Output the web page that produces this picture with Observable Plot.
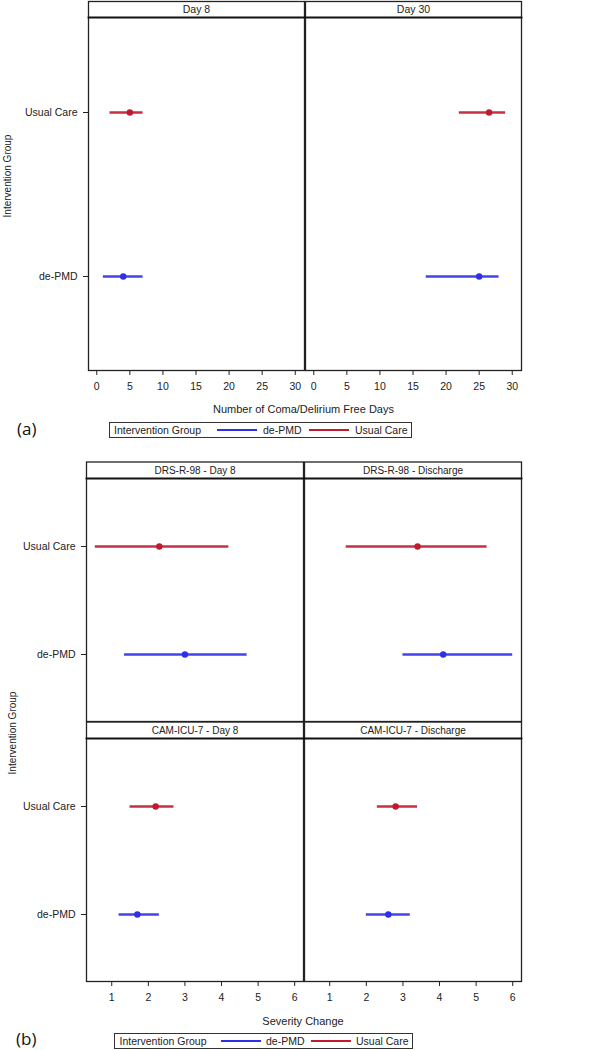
<!DOCTYPE html>
<html>
<head>
<meta charset="utf-8">
<script src="https://cdn.jsdelivr.net/npm/d3@7"></script>
<script src="https://cdn.jsdelivr.net/npm/@observablehq/plot@0.6"></script>
<style>
html,body{margin:0;padding:0;background:#fff;}
#wrap{position:relative;width:589px;height:1050px;overflow:hidden;font-family:"Liberation Sans",Arial,sans-serif;color:#222;}
.chart{position:absolute;left:0;}
.ylab{position:absolute;white-space:nowrap;font-size:10px;line-height:1;transform:translate(-50%,-50%) rotate(-90deg);}
.xlab{position:absolute;white-space:nowrap;font-size:11px;line-height:1;transform:translate(-50%,-50%);}
.tag{position:absolute;font-family:"Open Sans",sans-serif;font-size:17px;line-height:1;transform:translateY(-50%);color:#111;}
.legend{position:absolute;border:1px solid #333;box-sizing:border-box;height:16px;font-size:10.5px;}
.legend span{position:absolute;top:50%;transform:translateY(-50%);white-space:nowrap;line-height:1;}
.legend i{position:absolute;top:50%;height:2px;margin-top:-1px;}
</style>
</head>
<body>
<div id="wrap">
  <div id="chartA" class="chart" style="top:0px"></div>
  <div id="chartB" class="chart" style="top:445px"></div>
</div>
<script>
// ---------- data ----------
const groups = ["Usual Care", "de-PMD"];          // y order, top to bottom
const legendGroups = ["de-PMD", "Usual Care"];    // legend order
const groupColors = ["#2f2fe8", "#c01a30"];

// (a) coma/delirium free days
const panelsA = ["Day 8", "Day 30"];
const aPanel = ["Day 8", "Day 8", "Day 30", "Day 30"];
const aGroup = ["Usual Care", "de-PMD", "Usual Care", "de-PMD"];
const aMean  = [5, 4, 26.5, 25];
const aLow   = [2, 1, 22, 17];
const aHigh  = [7, 7, 29, 28];
const ticksA = [0, 5, 10, 15, 20, 25, 30];

// (b) severity change
const colsB = ["Day 8", "Discharge"];
const rowsB = ["DRS-R-98", "CAM-ICU-7"];
const bRow   = ["DRS-R-98", "DRS-R-98", "DRS-R-98", "DRS-R-98", "CAM-ICU-7", "CAM-ICU-7", "CAM-ICU-7", "CAM-ICU-7"];
const bCol   = ["Day 8", "Day 8", "Discharge", "Discharge", "Day 8", "Day 8", "Discharge", "Discharge"];
const bGroup = ["Usual Care", "de-PMD", "Usual Care", "de-PMD", "Usual Care", "de-PMD", "Usual Care", "de-PMD"];
const bMean  = [2.3, 3.0, 3.4, 4.1, 2.2, 1.7, 2.8, 2.6];
const bLow   = [0.55, 1.35, 1.45, 3.0, 1.5, 1.2, 2.3, 2.0];
const bHigh  = [4.2, 4.7, 5.3, 6.0, 2.7, 2.3, 3.4, 3.2];
const ticksB = [1, 2, 3, 4, 5, 6];

const titleA = "Number of Coma/Delirium Free Days";
const titleB = "Severity Change";
const yTitle = "Intervention Group";

// ---------- tables ----------
const dataA = aPanel.map((p, i) => ({panel: p, group: aGroup[i], mean: aMean[i], lo: aLow[i], hi: aHigh[i]}));
const dataB = bRow.map((r, i) => ({row: r, col: bCol[i], group: bGroup[i], mean: bMean[i], lo: bLow[i], hi: bHigh[i]}));
const headersB = [];
for (const r of rowsB) for (const c of colsB) headersB.push({row: r, col: c, label: r + " - " + c});

const style = {fontFamily: '"Liberation Sans", Arial, sans-serif', fontSize: "10.5px", color: "#222", background: "transparent", overflow: "visible"};

// ---------- chart (a) ----------
const plotA = Plot.plot({
  width: 589, height: 395,
  marginTop: 17, marginBottom: 25, marginLeft: 87, marginRight: 68,
  style,
  fx: {domain: panelsA, axis: null, paddingInner: 0.006, paddingOuter: 0},
  x: {domain: [-1.25, 31.4], ticks: ticksA, tickFormat: "d", tickSize: 5, tickPadding: 7, label: null},
  y: {type: "point", domain: groups, padding: 0.576, tickSize: 5, tickPadding: 6, label: null},
  color: {domain: legendGroups, range: groupColors},
  marks: [
    Plot.frame({insetTop: -16, stroke: "#222", strokeWidth: 1.3}),
    Plot.frame({anchor: "top", stroke: "#111", strokeWidth: 1.8}),
    Plot.text(panelsA, {fx: d => d, text: d => d, frameAnchor: "top", lineAnchor: "middle", dy: -8, fontSize: 10.5, fill: "#222"}),
    Plot.ruleY(dataA, {fx: "panel", y: "group", x1: "lo", x2: "hi", stroke: "group", strokeWidth: 2.6, strokeOpacity: 0.9}),
    Plot.dot(dataA, {fx: "panel", x: "mean", y: "group", fill: "group", r: 3.2})
  ]
});
document.getElementById("chartA").appendChild(plotA);

// ---------- chart (b) ----------
const plotB = Plot.plot({
  width: 589, height: 565,
  marginTop: 33, marginBottom: 28, marginLeft: 85, marginRight: 67.5,
  style,
  fx: {domain: colsB, axis: null, paddingInner: 0.006, paddingOuter: 0},
  fy: {domain: rowsB, axis: null, paddingInner: 0.0653, paddingOuter: 0},
  x: {domain: [0.31, 6.24], ticks: ticksB, tickFormat: "d", tickSize: 5, tickPadding: 7, label: null},
  y: {type: "point", domain: groups, padding: 0.623, tickSize: 5, tickPadding: 6, label: null},
  color: {domain: legendGroups, range: groupColors},
  marks: [
    Plot.frame({insetTop: -16.5, stroke: "#222", strokeWidth: 1.3}),
    Plot.frame({anchor: "top", stroke: "#111", strokeWidth: 1.8}),
    Plot.text(headersB, {fx: "col", fy: "row", text: "label", frameAnchor: "top", lineAnchor: "middle", dy: -8, fontSize: 10, fill: "#222"}),
    Plot.ruleY(dataB, {fx: "col", fy: "row", y: "group", x1: "lo", x2: "hi", stroke: "group", strokeWidth: 2.6, strokeOpacity: 0.9}),
    Plot.dot(dataB, {fx: "col", fy: "row", x: "mean", y: "group", fill: "group", r: 3.2})
  ]
});
document.getElementById("chartB").appendChild(plotB);

// ---------- titles, tags, legends ----------
const wrap = document.getElementById("wrap");
function addDiv(cls, text, css) {
  const d = document.createElement("div");
  d.className = cls; d.textContent = text;
  Object.assign(d.style, css);
  wrap.appendChild(d);
  return d;
}
addDiv("xlab", titleA, {left: "303.5px", top: "409px"});
addDiv("xlab", titleB, {left: "303px", top: "1021px"});
addDiv("ylab", yTitle, {left: "8px", top: "176px"});
addDiv("ylab", yTitle, {left: "13px", top: "733px"});
addDiv("tag", "(a)", {left: "17px", top: "428px"});
addDiv("tag", "(b)", {left: "16px", top: "1038px"});

function legend(left, top, width, pos) {
  const box = addDiv("legend", "", {left: left + "px", top: top + "px", width: width + "px"});
  const s0 = document.createElement("span");
  s0.textContent = yTitle; s0.style.left = pos[0] + "px"; box.appendChild(s0);
  legendGroups.forEach((g, i) => {
    const line = document.createElement("i");
    line.style.left = pos[1 + i * 2] + "px"; line.style.width = "40px";
    line.style.background = groupColors[i];
    box.appendChild(line);
    const s = document.createElement("span");
    s.textContent = g; s.style.left = pos[2 + i * 2] + "px";
    box.appendChild(s);
  });
}
legend(109, 422, 303, [4, 107, 153, 199, 245]);
legend(114, 1033, 299, [4.5, 106, 151, 196, 241]);
</script>
</body>
</html>
